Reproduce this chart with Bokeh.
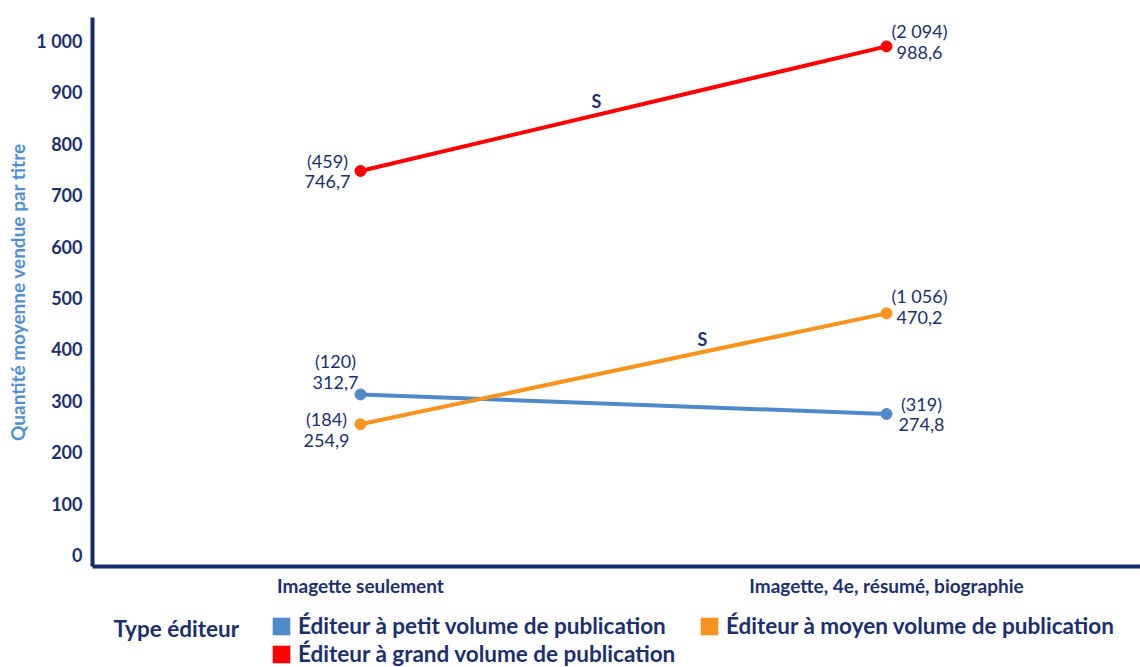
from bokeh.plotting import figure
from bokeh.layouts import column
from bokeh.models import ColumnDataSource, Range1d, FixedTicker, Legend, LegendItem, Label
from bokeh.core.properties import value
from bokeh.embed import file_html
from bokeh.resources import INLINE

# ---------------- data ----------------
categories = ["Imagette seulement", "Imagette, 4e, résumé, biographie"]
series_names = [
    "Éditeur à petit volume de publication",
    "Éditeur à moyen volume de publication",
    "Éditeur à grand volume de publication",
]
petit_values = [312.7, 274.8]
moyen_values = [254.9, 470.2]
grand_values = [746.7, 988.6]
petit_counts = ["(120)", "(319)"]
moyen_counts = ["(184)", "(1 056)"]
grand_counts = ["(459)", "(2 094)"]
significance = ["", "S", "S"]
legend_title = "Type éditeur"
y_axis_title = "Quantité moyenne vendue par titre"
y_ticks = [0, 100, 200, 300, 400, 500, 600, 700, 800, 900, 1000]
y_tick_labels = ["0", "100", "200", "300", "400", "500", "600", "700", "800", "900", "1 000"]

# ---------------- style ----------------
FONT = "Lato"
NAVY = "#1d2f6f"
AXIS = "#172a6c"
colors = ["#4f89c9", "#f7941d", "#ff0000"]
label_offsets = [
    [(-25, -23), (35, 0)],
    [(-34, 5), (33, -7)],
    [(-33, 0), (33, -5)],
]
sig_offsets = [(0, 0), (79, -30), (-27, -8)]

x_pos = list(range(len(categories)))

p = figure(
    width=1140, height=600,
    x_range=Range1d(-0.5095, 1.4829),
    y_range=Range1d(-21.4, 1044.7),
    output_backend="svg", toolbar_location=None,
    min_border_left=92, min_border_right=0, min_border_top=17, min_border_bottom=34,
)
p.outline_line_color = None
p.xgrid.visible = False
p.ygrid.visible = False

p.yaxis.ticker = FixedTicker(ticks=y_ticks)
p.yaxis.major_label_overrides = {t: l for t, l in zip(y_ticks, y_tick_labels)}
p.xaxis.ticker = FixedTicker(ticks=x_pos)
p.xaxis.major_label_overrides = {i: c for i, c in zip(x_pos, categories)}
for ax in (p.xaxis[0], p.yaxis[0]):
    ax.axis_line_color = AXIS
    ax.axis_line_width = 4
    ax.major_tick_line_color = None
    ax.minor_tick_line_color = None
    ax.major_label_text_font = FONT
    ax.major_label_text_font_style = "bold"
    ax.major_label_text_color = NAVY
p.yaxis.major_label_text_font_size = "18px"
p.yaxis.major_label_standoff = 4
p.xaxis.major_label_text_font_size = "19px"
p.xaxis.major_label_standoff = 1
p.yaxis.axis_label = y_axis_title
p.yaxis.axis_label_text_font = FONT
p.yaxis.axis_label_text_font_style = "bold"
p.yaxis.axis_label_text_font_size = "19px"
p.yaxis.axis_label_text_color = "#4f8fd2"
p.yaxis.axis_label_standoff = 4

all_values = [petit_values, moyen_values, grand_values]
all_counts = [petit_counts, moyen_counts, grand_counts]

for vals, counts, col, offs, sig, soff in zip(all_values, all_counts, colors, label_offsets, significance, sig_offsets):
    p.line(x=x_pos, y=vals, line_color=col, line_width=4)
    p.scatter(x=x_pos, y=vals, size=11, fill_color=col, line_color=col)
    texts = [f"{c}\n{v:.1f}".replace(".", ",") for c, v in zip(counts, vals)]
    src = ColumnDataSource(dict(
        x=x_pos, y=vals, text=texts,
        xo=[o[0] for o in offs], yo=[o[1] for o in offs],
    ))
    p.text(x="x", y="y", text="text", source=src, x_offset="xo", y_offset="yo",
           text_font=value(FONT), text_font_size="18px", text_color=NAVY,
           text_align="center", text_baseline="middle", text_line_height=0.95)
    if sig:
        mx = sum(x_pos) / len(x_pos)
        my = sum(vals) / len(vals)
        p.text(x=[mx], y=[my], text=[sig], x_offset=soff[0], y_offset=soff[1],
               text_font=value(FONT), text_font_size="18px", text_font_style="bold",
               text_color=NAVY, text_align="center", text_baseline="middle")

# ---------------- legend strip (frame aligned with the main plot frame) ----------------
lf = figure(
    width=1140, height=67,
    x_range=Range1d(0, 1), y_range=Range1d(0, 1),
    output_backend="svg", toolbar_location=None,
    x_axis_location=None, y_axis_location=None,
    min_border_left=92, min_border_right=0, min_border_top=0, min_border_bottom=0,
)
lf.outline_line_color = None
lf.xgrid.visible = False
lf.ygrid.visible = False

nan = float("nan")
legend_locs = [(178, 28), (606, 28), (178, 0)]
for name, col, loc in zip(series_names, colors, legend_locs):
    sq = lf.rect(x=[nan], y=[nan], width=1, height=1, fill_color=col, line_color=None)
    lg = Legend(items=[LegendItem(label=name, renderers=[sq])], location=loc,
                padding=0, margin=0, spacing=0, border_line_color=None,
                background_fill_alpha=0, glyph_width=22, glyph_height=22,
                label_standoff=6, label_text_font=FONT, label_text_font_size="22.5px",
                label_text_font_style="bold", label_text_color=NAVY, label_height=22)
    lf.add_layout(lg, "center")

lf.add_layout(Label(x=21, y=39, x_units="screen", y_units="screen", text=legend_title,
                    text_font=FONT, text_font_size="22.5px", text_font_style="bold",
                    text_color=NAVY, text_baseline="middle", text_align="left"))

layout = column(p, lf, spacing=0)
open("out.html", "w").write(file_html(layout, INLINE))
